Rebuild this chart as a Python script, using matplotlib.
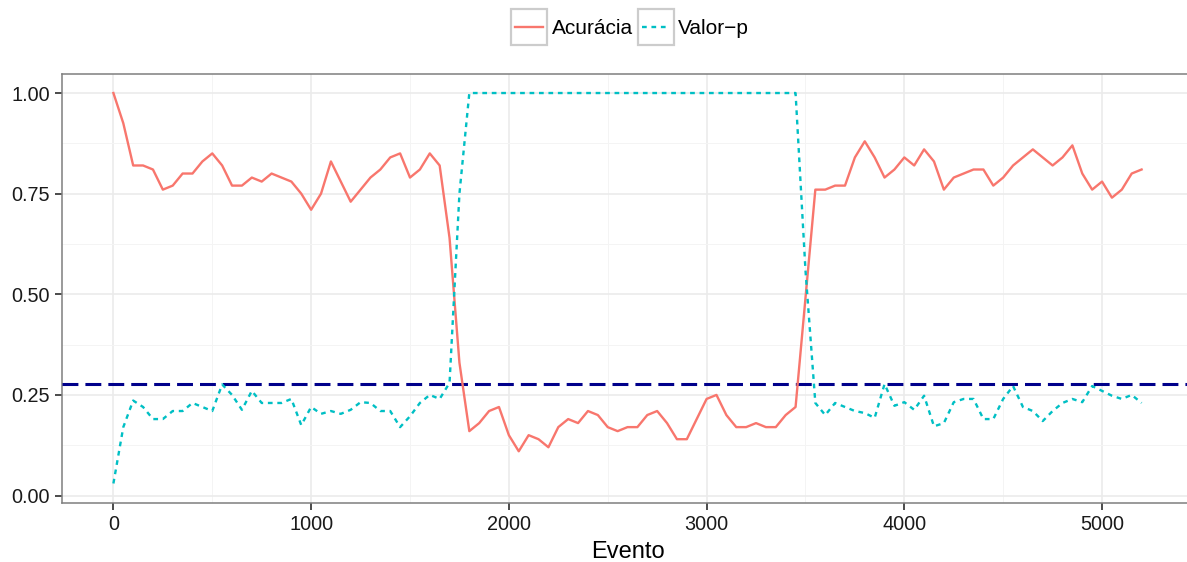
import numpy as np
import matplotlib
matplotlib.use('Agg')
import matplotlib.pyplot as plt
from matplotlib.legend_handler import HandlerLine2D
from matplotlib.lines import Line2D
from matplotlib.patches import Rectangle
from matplotlib.ticker import MultipleLocator, FormatStrFormatter

plt.rcParams['font.family'] = ['Liberation Sans', 'DejaVu Sans']

# evento a cada 50
evento = np.arange(0, 5201, 50)

acuracia = [
    1.00, 0.925, 0.82, 0.82, 0.81, 0.76, 0.77, 0.80, 0.80, 0.83,
    0.85, 0.82, 0.77, 0.77, 0.79, 0.78, 0.80, 0.79, 0.78, 0.75,
    0.71, 0.75, 0.83, 0.78, 0.73, 0.76, 0.79, 0.81, 0.84, 0.85,
    0.79, 0.81, 0.85, 0.82, 0.64, 0.33,
    0.16, 0.18, 0.21, 0.22, 0.15, 0.11, 0.15, 0.14, 0.12, 0.17,
    0.19, 0.18, 0.21, 0.20, 0.17, 0.16, 0.17, 0.17, 0.20, 0.21,
    0.18, 0.14, 0.14, 0.19, 0.24, 0.25, 0.20, 0.17, 0.17, 0.18,
    0.17, 0.17, 0.20, 0.22,
    0.49, 0.76, 0.76, 0.77, 0.77, 0.84, 0.88, 0.84, 0.79, 0.81,
    0.84, 0.82, 0.86, 0.83, 0.76, 0.79, 0.80, 0.81, 0.81, 0.77,
    0.79, 0.82, 0.84, 0.86, 0.84, 0.82, 0.84, 0.87, 0.80, 0.76,
    0.78, 0.74, 0.76, 0.80, 0.81,
]

valor_p = [
    0.03, 0.17, 0.236, 0.22, 0.19, 0.19, 0.21, 0.21, 0.23, 0.22,
    0.21, 0.276, 0.25, 0.213, 0.26, 0.23, 0.23, 0.23, 0.24, 0.175,
    0.22, 0.203, 0.21, 0.203, 0.213, 0.232, 0.23, 0.21, 0.21, 0.17,
    0.197, 0.23, 0.25, 0.24, 0.28, 0.75,
] + [1.0] * 34 + [
    0.56, 0.23, 0.20, 0.23, 0.22, 0.21, 0.205, 0.193, 0.277, 0.223,
    0.232, 0.213, 0.248, 0.172, 0.18, 0.232, 0.24, 0.24, 0.19, 0.19,
    0.24, 0.272, 0.22, 0.21, 0.185, 0.21, 0.23, 0.24, 0.232, 0.272,
    0.26, 0.248, 0.24, 0.25, 0.23,
]

limiar = 0.278

cor_acc = '#F8766D'
cor_p = '#00BFC4'
traco_p = (2.0, 2.0)


class BoxedLine(HandlerLine2D):
    # chave da legenda com moldura cinza, estilo ggplot
    def create_artists(self, legend, orig_handle, xdescent, ydescent,
                       width, height, fontsize, trans):
        box = Rectangle((-xdescent, -ydescent), width, height,
                        facecolor='white', edgecolor='#CCCCCC', lw=1.6,
                        transform=trans)
        inset = width * 0.11
        y = -ydescent + height / 2
        line = Line2D([-xdescent + inset, -xdescent + width - inset], [y, y],
                      color=orig_handle.get_color(),
                      lw=orig_handle.get_linewidth(), transform=trans)
        if orig_handle.get_linestyle() != '-':
            line.set_dashes(traco_p)
        return [box, line]


fig = plt.figure(figsize=(11.87, 5.62), dpi=100)
ax = fig.add_axes([62 / 1187, 59 / 562, 1131 / 1187, 429.5 / 562])

ax.axhline(limiar, color='#00008B', lw=2.2, dashes=(5.2, 2.3), zorder=3)
l1, = ax.plot(evento, acuracia, color=cor_acc, lw=1.7, label='Acurácia', zorder=4)
l2, = ax.plot(evento, valor_p, color=cor_p, lw=1.7, dashes=traco_p,
              label='Valor\u2212p', zorder=4)

ax.set_xlim(-260, 5460)
ax.set_ylim(0.03 - 0.0485, 1.0485)

ax.xaxis.set_major_locator(MultipleLocator(1000))
ax.xaxis.set_minor_locator(MultipleLocator(500))
ax.yaxis.set_major_locator(MultipleLocator(0.25))
ax.yaxis.set_minor_locator(MultipleLocator(0.125))
ax.yaxis.set_major_formatter(FormatStrFormatter('%.2f'))

ax.grid(which='major', color='#EBEBEB', lw=1.2)
ax.grid(which='minor', color='#F4F4F4', lw=0.7)
ax.set_axisbelow(True)

for s in ax.spines.values():
    s.set_color('#7F7F7F')
    s.set_linewidth(1.1)

ax.tick_params(which='major', length=5, width=1.1, color='#1A1A1A',
               labelsize=14.3, labelcolor='#1A1A1A', pad=3.5)
ax.tick_params(which='minor', length=0)

ax.set_xlabel('Evento', fontsize=17, labelpad=5)

fig.legend(handles=[l1, l2], loc='upper center', bbox_to_anchor=(0.531, 0.984),
           ncol=2, frameon=False, fontsize=15, handlelength=1.73,
           handleheight=2.29, handletextpad=0.22, columnspacing=0.22,
           borderpad=0, borderaxespad=0,
           handler_map={Line2D: BoxedLine()})

fig.savefig('out.png', dpi=100)
